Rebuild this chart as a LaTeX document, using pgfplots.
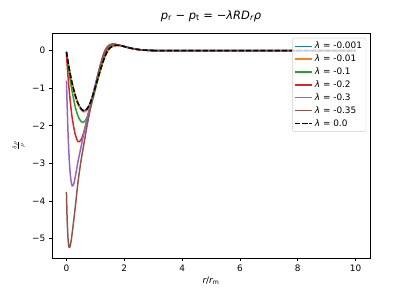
\documentclass[border=0pt]{standalone}
\usepackage{pgfplots}
\pgfplotsset{compat=1.18}
\usepackage{fontspec}
\setmainfont{DejaVu Sans}
\definecolor{tblue}{HTML}{1F77B4}
\definecolor{torange}{HTML}{FF7F0E}
\definecolor{tgreen}{HTML}{2CA02C}
\definecolor{tred}{HTML}{D62728}
\definecolor{tpurple}{HTML}{9467BD}
\definecolor{tbrown}{HTML}{8C564B}
\begin{document}
\begin{tikzpicture}
\useasboundingbox (-52pt,-33pt) rectangle (360pt,258pt);
\begin{axis}[
  at={(0,0)}, anchor=south west,
  scale only axis, width=318pt, height=225pt,
  xmin=-0.5, xmax=10.5, ymin=-5.52, ymax=0.47,
  xtick={0,2,4,6,8,10},
  ytick={-5,-4,-3,-2,-1,0},
  yticklabels={−5,−4,−3,−2,−1,0},
  xtick pos=bottom, ytick pos=left,
  tick align=outside, major tick length=3.1pt,
  tick style={black, line width=0.6pt},
  axis line style={line width=0.6pt},
  /pgf/number format/assume math mode=true,
  ticklabel style={font=\fontsize{8.9}{10}\selectfont},
  title={{\itshape p}\textsubscript{r} − {\itshape p}\textsubscript{t} = −{\itshape λRD}\textsubscript{\itshape r}{\itshape ρ}},
  title style={font=\fontsize{11.5}{13}\selectfont, at={(0.5,1)}, anchor=south, yshift=2pt},
  xlabel={{\itshape r}/{\itshape r}\textsubscript{m}},
  xlabel style={font=\fontsize{8.9}{10}\selectfont, at={(axis description cs:0.5,-0.07)}, anchor=north},
  ylabel={$\frac{\delta\rho}{\rho}$},
  ylabel style={font=\fontsize{8.9}{10}\selectfont, at={(axis description cs:-0.105,0.5)}, anchor=center},
  legend style={at={(0.988,0.978)}, anchor=north east, draw=black!20, rounded corners=2pt,
    font=\fontsize{8.9}{10.5}\selectfont, inner sep=2pt, row sep=0.6pt,
    fill=white, fill opacity=0.8, text opacity=1},
  legend cell align=left,
  every axis plot/.append style={line width=1.5pt, smooth},
]
\addplot[tblue] coordinates {(0,-0.03)(0.05,-0.28)(0.1,-0.5)(0.15,-0.7)(0.2,-0.88)(0.3,-1.18)(0.4,-1.4)(0.5,-1.54)(0.6,-1.6)(0.7,-1.56)(0.8,-1.43)(0.9,-1.22)(1.0,-0.97)(1.1,-0.71)(1.2,-0.45)(1.3,-0.22)(1.4,-0.04)(1.5,0.07)(1.6,0.12)(1.7,0.14)(1.8,0.14)(1.9,0.13)(2.0,0.11)(2.2,0.07)(2.4,0.04)(2.6,0.02)(2.8,0.01)(3.0,0.004)(3.5,0)(10,0)};
\addlegendentry{{\itshape λ} = -0.001}
\addplot[torange] coordinates {(0,-0.03)(0.05,-0.29)(0.1,-0.51)(0.15,-0.71)(0.2,-0.9)(0.3,-1.2)(0.4,-1.42)(0.5,-1.57)(0.6,-1.63)(0.7,-1.59)(0.8,-1.46)(0.9,-1.24)(1.0,-0.98)(1.1,-0.72)(1.2,-0.45)(1.3,-0.22)(1.4,-0.04)(1.5,0.07)(1.6,0.12)(1.7,0.14)(1.8,0.14)(1.9,0.13)(2.0,0.11)(2.2,0.07)(2.4,0.04)(2.6,0.02)(2.8,0.01)(3.0,0.004)(3.5,0)(10,0)};
\addlegendentry{{\itshape λ} = -0.01}
\addplot[tgreen] coordinates {(0,-0.05)(0.05,-0.35)(0.1,-0.63)(0.15,-0.88)(0.2,-1.1)(0.3,-1.48)(0.4,-1.74)(0.5,-1.88)(0.6,-1.9)(0.7,-1.8)(0.8,-1.6)(0.9,-1.33)(1.0,-1.03)(1.1,-0.71)(1.2,-0.41)(1.3,-0.16)(1.4,0.02)(1.5,0.11)(1.6,0.15)(1.7,0.16)(1.8,0.15)(1.9,0.13)(2.0,0.11)(2.2,0.07)(2.4,0.04)(2.6,0.02)(2.8,0.01)(3.0,0.004)(3.5,0)(10,0)};
\addlegendentry{{\itshape λ} = -0.1}
\addplot[tred] coordinates {(0,-0.1)(0.05,-0.65)(0.1,-1.1)(0.15,-1.48)(0.2,-1.8)(0.3,-2.22)(0.4,-2.42)(0.5,-2.38)(0.6,-2.18)(0.7,-1.88)(0.8,-1.55)(0.9,-1.24)(1.0,-0.93)(1.1,-0.63)(1.2,-0.36)(1.3,-0.11)(1.4,0.05)(1.5,0.13)(1.6,0.16)(1.7,0.16)(1.8,0.15)(1.9,0.13)(2.0,0.11)(2.2,0.07)(2.4,0.04)(2.6,0.02)(2.8,0.01)(3.0,0.004)(3.5,0)(10,0)};
\addlegendentry{{\itshape λ} = -0.2}
\addplot[tpurple] coordinates {(0,-0.8)(0.03,-1.6)(0.06,-2.3)(0.1,-2.95)(0.15,-3.42)(0.2,-3.6)(0.25,-3.55)(0.3,-3.38)(0.4,-2.95)(0.5,-2.58)(0.6,-2.2)(0.7,-1.85)(0.8,-1.52)(0.9,-1.2)(1.0,-0.9)(1.1,-0.6)(1.2,-0.33)(1.3,-0.08)(1.4,0.07)(1.5,0.15)(1.6,0.17)(1.7,0.17)(1.8,0.15)(1.9,0.13)(2.0,0.11)(2.2,0.07)(2.4,0.04)(2.6,0.02)(2.8,0.01)(3.0,0.004)(3.5,0)(10,0)};
\addlegendentry{{\itshape λ} = -0.3}
\addplot[tbrown] coordinates {(0,-3.76)(0.02,-4.4)(0.05,-4.95)(0.08,-5.2)(0.11,-5.24)(0.15,-5.12)(0.2,-4.85)(0.3,-4.2)(0.4,-3.5)(0.5,-2.95)(0.6,-2.5)(0.7,-2.05)(0.8,-1.65)(0.9,-1.28)(1.0,-0.93)(1.1,-0.6)(1.2,-0.3)(1.3,-0.05)(1.4,0.09)(1.5,0.16)(1.6,0.18)(1.7,0.17)(1.8,0.15)(1.9,0.13)(2.0,0.11)(2.2,0.07)(2.4,0.04)(2.6,0.02)(2.8,0.01)(3.0,0.004)(3.5,0)(10,0)};
\addlegendentry{{\itshape λ} = -0.35}
\addplot[black, dash pattern=on 5pt off 2.2pt] coordinates {(0,-0.03)(0.05,-0.28)(0.1,-0.5)(0.15,-0.7)(0.2,-0.88)(0.3,-1.18)(0.4,-1.4)(0.5,-1.54)(0.6,-1.6)(0.7,-1.56)(0.8,-1.43)(0.9,-1.22)(1.0,-0.97)(1.1,-0.71)(1.2,-0.45)(1.3,-0.22)(1.4,-0.04)(1.5,0.07)(1.6,0.12)(1.7,0.14)(1.8,0.14)(1.9,0.13)(2.0,0.11)(2.2,0.07)(2.4,0.04)(2.6,0.02)(2.8,0.01)(3.0,0.004)(3.5,0)(10,0)};
\addlegendentry{{\itshape λ} = 0.0}
\end{axis}
\end{tikzpicture}
\end{document}
